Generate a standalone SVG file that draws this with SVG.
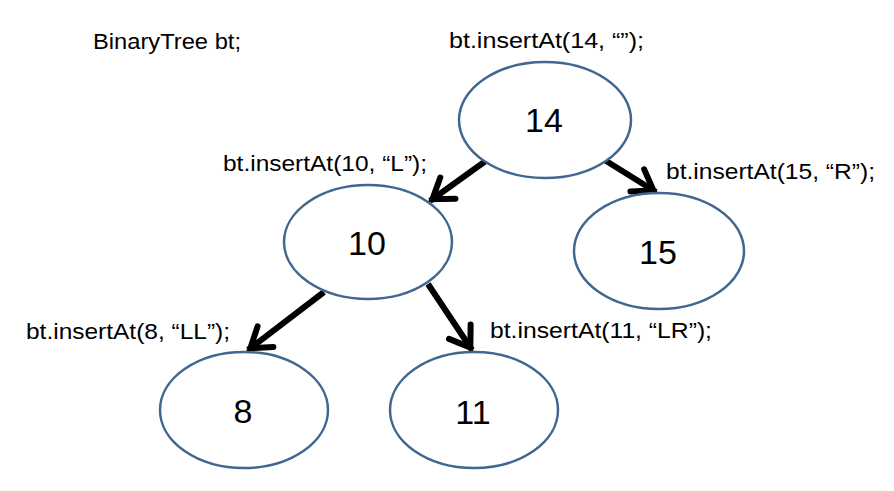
<svg xmlns="http://www.w3.org/2000/svg" width="894" height="491" viewBox="0 0 894 491">
<style>
.node ellipse{fill:#fff;stroke:#41668f;stroke-width:2.5}
.num{font-family:"Liberation Sans",Arial,sans-serif;font-size:34px;fill:#000;text-anchor:middle}
.lbl{font-family:"Liberation Sans",Arial,sans-serif;font-size:22px;fill:#000}
.edge{stroke:#000;stroke-width:6;fill:none}
</style>
<defs>
<marker id="arr" markerUnits="userSpaceOnUse" viewBox="-30 -20 40 40" refX="0" refY="0" markerWidth="40" markerHeight="40" orient="auto" overflow="visible">
<path d="M-22 -13 L-3 0 L-22 13" fill="none" stroke="#000" stroke-width="6" stroke-linecap="round"/>
</marker>
</defs>
<rect width="894" height="491" fill="#fff"/>
<g id="connectors">
<line class="edge" x1="487" y1="160" x2="430" y2="201" marker-end="url(#arr)"/>
<line class="edge" x1="603" y1="159" x2="656" y2="192" marker-end="url(#arr)"/>
<line class="edge" x1="324" y1="292" x2="248" y2="350" marker-end="url(#arr)"/>
<line class="edge" x1="428" y1="284" x2="472" y2="350" marker-end="url(#arr)"/>
</g>
<g id="node14" class="node"><ellipse cx="545" cy="120" rx="86" ry="58"/><text class="num" x="544" y="132">14</text></g>
<g id="node10" class="node"><ellipse cx="368" cy="242" rx="84" ry="57"/><text class="num" x="367" y="255">10</text></g>
<g id="node15" class="node"><ellipse cx="659" cy="251" rx="85" ry="58"/><text class="num" x="658" y="264">15</text></g>
<g id="node8" class="node"><ellipse cx="244" cy="410" rx="84" ry="58"/><text class="num" x="243" y="423">8</text></g>
<g id="node11" class="node"><ellipse cx="474" cy="410" rx="84" ry="58"/><text class="num" x="473" y="424">11</text></g>
<g id="labels">
<text class="lbl" x="93" y="49" textLength="148" lengthAdjust="spacingAndGlyphs">BinaryTree bt;</text>
<text class="lbl" x="449" y="48" textLength="195" lengthAdjust="spacingAndGlyphs">bt.insertAt(14, “”);</text>
<text class="lbl" x="223" y="171" textLength="204" lengthAdjust="spacingAndGlyphs">bt.insertAt(10, “L”);</text>
<text class="lbl" x="666" y="179" textLength="209" lengthAdjust="spacingAndGlyphs">bt.insertAt(15, “R”);</text>
<text class="lbl" x="26" y="339" textLength="204" lengthAdjust="spacingAndGlyphs">bt.insertAt(8, “LL”);</text>
<text class="lbl" x="490" y="338" textLength="222" lengthAdjust="spacingAndGlyphs">bt.insertAt(11, “LR”);</text>
</g>
</svg>
